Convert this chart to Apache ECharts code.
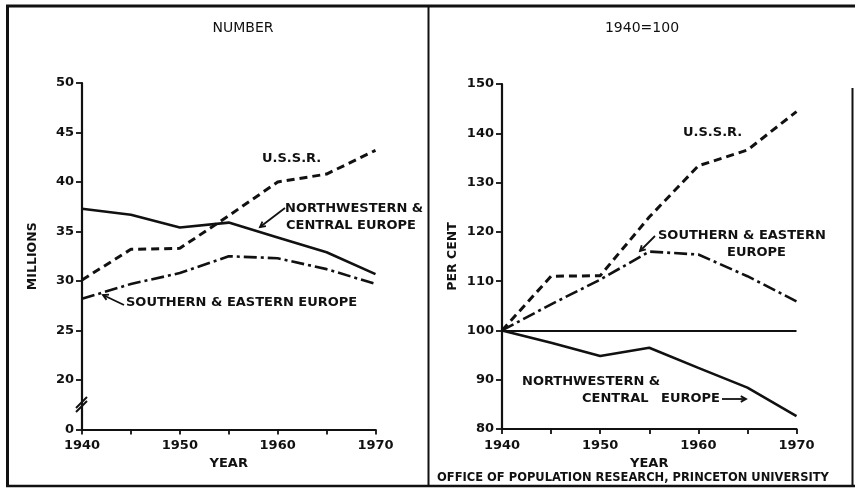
<!DOCTYPE html>
<html>
<head>
<meta charset="utf-8">
<script src="https://cdn.jsdelivr.net/npm/echarts@6/dist/echarts.min.js"></script>
<style>
  html, body { margin: 0; padding: 0; background: #fff; }
  #chart { width: 855px; height: 489px; }
</style>
</head>
<body>
<div id="chart"></div>
<script>
// Population of the three regions, 1940-1970
const years = [1940, 1945, 1950, 1955, 1960, 1965, 1970];

// Millions
const nwCentralMillions = [37.3, 36.7, 35.4, 35.9, 34.4, 32.9, 30.7];
const ussrMillions      = [30.1, 33.2, 33.3, 36.6, 40.0, 40.8, 43.2];
const southEastMillions = [28.2, 29.7, 30.8, 32.5, 32.3, 31.2, 29.7];

// Index, 1940 = 100
const nwCentralIndex = [100, 97.5, 94.8, 96.5, 92.4, 88.4, 82.6];
const ussrIndex      = [100, 111.0, 111.1, 123.0, 133.4, 136.6, 144.4];
const southEastIndex = [100, 105.3, 110.3, 116.0, 115.4, 111.0, 105.9];

// Left axis runs 20-50 with a break; the bottom tick stands for zero
const millionsTicks = [15, 20, 25, 30, 35, 40, 45, 50];
const millionsTickText = ['0', '20', '25', '30', '35', '40', '45', '50'];
const percentTicks = [80, 90, 100, 110, 120, 130, 140, 150];

const INK = '#111';
const FONT = '"DejaVu Sans", sans-serif';

const pairs = (vals) => years.map((y, i) => [y, vals[i]]);

const solid  = { color: INK, width: 2.6, type: 'solid' };
const dashed = { color: INK, width: 3, type: [8, 5] };
const dashDot = { color: INK, width: 2.6, type: [13, 4, 3, 4] };

function xAxisFor(gridIndex) {
  return {
    type: 'value', gridIndex, min: years[0], max: years[years.length - 1], interval: 5,
    name: 'YEAR', nameLocation: 'middle', nameGap: 23,
    nameTextStyle: { color: INK, fontFamily: FONT, fontWeight: 'bold', fontSize: 13 },
    axisLine: { show: true, lineStyle: { color: INK, width: 2.2 } },
    axisTick: { show: true, inside: false, length: 5, lineStyle: { color: INK, width: 1.8 } },
    axisLabel: {
      color: INK, fontFamily: FONT, fontWeight: 'bold', fontSize: 13, margin: 10,
      formatter: (v) => (v % 10 === 0 ? String(v) : '')
    },
    splitLine: { show: false }
  };
}

function yAxisFor(gridIndex, ticks, name, formatter) {
  return {
    type: 'value', gridIndex, min: ticks[0], max: ticks[ticks.length - 1],
    interval: ticks[1] - ticks[0],
    name, nameLocation: 'middle', nameGap: 43, nameRotate: 90,
    nameTextStyle: { color: INK, fontFamily: FONT, fontWeight: 'bold', fontSize: 12.5 },
    axisLine: { show: true, lineStyle: { color: INK, width: 2.2 } },
    axisTick: { show: true, inside: false, length: 6, lineStyle: { color: INK, width: 1.8 } },
    axisLabel: { color: INK, fontFamily: FONT, fontWeight: 'bold', fontSize: 13, margin: 8, formatter },
    splitLine: { show: false }
  };
}

function line(name, data, gridIndex, style, extra) {
  return Object.assign({
    name, type: 'line', xAxisIndex: gridIndex, yAxisIndex: gridIndex,
    data: pairs(data), showSymbol: false, symbol: 'none', smooth: false,
    lineStyle: style, z: 5, animation: false
  }, extra || {});
}

const labelFont = 'bold 13px ' + FONT;
function txt(x, y, text, opts) {
  return Object.assign({
    type: 'text', x, y, silent: true,
    style: { text, font: labelFont, fill: INK, textVerticalAlign: 'middle', textAlign: 'left' }
  }, opts || {});
}
function seg(x1, y1, x2, y2, w) {
  return { type: 'line', silent: true, shape: { x1, y1, x2, y2 }, style: { stroke: INK, lineWidth: w || 2 } };
}
// Arrow from (x1,y1) pointing at (x2,y2)
function arrow(x1, y1, x2, y2) {
  const a = Math.atan2(y2 - y1, x2 - x1), h = 6, s = 0.5;
  return [
    seg(x1, y1, x2, y2, 1.8),
    { type: 'polyline', silent: true,
      shape: { points: [
        [x2 - h * Math.cos(a - s), y2 - h * Math.sin(a - s)],
        [x2, y2],
        [x2 - h * Math.cos(a + s), y2 - h * Math.sin(a + s)]
      ] },
      style: { stroke: INK, lineWidth: 1.8, fill: null } }
  ];
}

const chart = echarts.init(document.getElementById('chart'), null, { renderer: 'canvas' });

const option = {
  backgroundColor: '#fff',
  animation: false,
  grid: [
    { left: 82, top: 83, width: 293.5, height: 346.5, containLabel: false },
    { left: 502, top: 84, width: 294.5, height: 345, containLabel: false }
  ],
  xAxis: [xAxisFor(0), xAxisFor(1)],
  yAxis: [
    yAxisFor(0, millionsTicks, 'MILLIONS', (v) => millionsTickText[millionsTicks.indexOf(v)]),
    yAxisFor(1, percentTicks, 'PER CENT', (v) => String(v))
  ],
  series: [
    line('Northwestern & Central Europe', nwCentralMillions, 0, solid),
    line('U.S.S.R.', ussrMillions, 0, dashed),
    line('Southern & Eastern Europe', southEastMillions, 0, dashDot),
    line('Northwestern & Central Europe', nwCentralIndex, 1, solid, {
      markLine: {
        silent: true, symbol: 'none', label: { show: false },
        lineStyle: { color: INK, width: 2.2, type: 'solid' },
        data: [{ yAxis: 100 }]
      }
    }),
    line('U.S.S.R.', ussrIndex, 1, dashed),
    line('Southern & Eastern Europe', southEastIndex, 1, dashDot)
  ],
  graphic: [
    // frame
    seg(6, 6, 855, 6, 3),
    seg(7.5, 5, 7.5, 487, 3),
    seg(6, 486, 855, 486, 2.5),
    seg(428.5, 6, 428.5, 486, 2),
    seg(852.5, 88, 852.5, 486, 2),
    // panel headings
    txt(243, 28, 'NUMBER', { style: { text: 'NUMBER', font: '14px ' + FONT, fill: INK, textAlign: 'center', textVerticalAlign: 'middle' } }),
    txt(642, 28, '1940=100', { style: { text: '1940=100', font: '14px ' + FONT, fill: INK, textAlign: 'center', textVerticalAlign: 'middle' } }),
    // axis break
    seg(76, 408, 87, 397, 2),
    seg(76, 412, 87, 401, 2),
    // left panel labels
    txt(262, 159, 'U.S.S.R.'),
    txt(285, 209, 'NORTHWESTERN &'),
    txt(286, 226, 'CENTRAL EUROPE'),
    ...arrow(285, 208, 260, 227),
    txt(126, 303, 'SOUTHERN & EASTERN EUROPE'),
    ...arrow(124, 305, 103, 295),
    // right panel labels
    txt(683, 133, 'U.S.S.R.'),
    txt(658, 236, 'SOUTHERN & EASTERN'),
    txt(727, 253, 'EUROPE'),
    ...arrow(655, 236, 640, 251),
    txt(522, 382, 'NORTHWESTERN &'),
    txt(582, 399, 'CENTRAL'),
    txt(661, 399, 'EUROPE'),
    ...arrow(722, 399, 746, 399),
    txt(437, 478, 'OFFICE OF POPULATION RESEARCH, PRINCETON UNIVERSITY',
      { style: { text: 'OFFICE OF POPULATION RESEARCH, PRINCETON UNIVERSITY', font: 'bold 11.5px ' + FONT, fill: INK, textAlign: 'left', textVerticalAlign: 'middle' } })
  ]
};

chart.setOption(option);
</script>
</body>
</html>
